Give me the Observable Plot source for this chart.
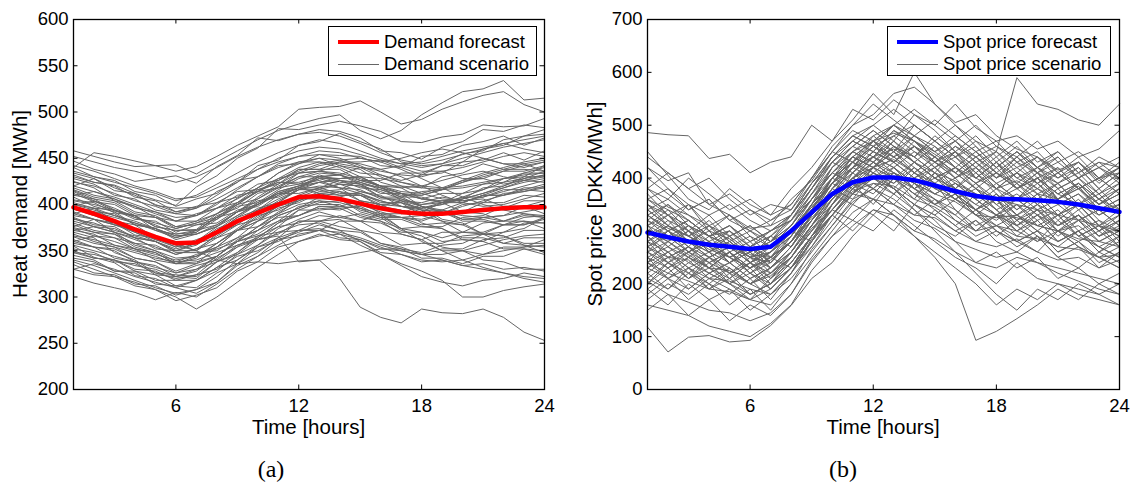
<!DOCTYPE html>
<html>
<head>
<meta charset="utf-8">
<script src="https://cdn.jsdelivr.net/npm/d3@7"></script>
<script src="https://cdn.jsdelivr.net/npm/@observablehq/plot@0.6"></script>
<style>
  html, body { margin: 0; padding: 0; background: #fff; }
  #wrap { position: relative; width: 1132px; height: 482px; overflow: hidden; background: #fff;
          font-family: "Liberation Sans", Arial, Helvetica, sans-serif; color: #000; }
  .panel { position: absolute; top: 0; }
  .lbl { position: absolute; white-space: nowrap; font-size: 20.5px; line-height: 1; }
  .cap { position: absolute; white-space: nowrap; font-family: "Liberation Serif", "DejaVu Serif", serif; font-size: 24px; line-height: 1; }
  .legend { position: absolute; box-sizing: border-box; border: 1.3px solid #000; background: #fff; }
  .legend .sw { position: absolute; }
  .legend .tx { position: absolute; font-size: 18.5px; line-height: 1; white-space: nowrap; transform: translateY(-50%); }
</style>
</head>
<body>
<div id="wrap"></div>
<script>
// ---------- data ----------
const hours = d3.range(1, 25);
const xTicks = [6, 12, 18, 24];
const demandTicks = [200, 250, 300, 350, 400, 450, 500, 550, 600];
const priceTicks = [0, 100, 200, 300, 400, 500, 600, 700];

const demandForecast = [397,390,382,373,365,358,359,370,382,391,400,408,409,406,401,396,392,390,390,392,394,396,397,397];
const priceForecast  = [297,288,280,274,270,266,270,300,335,370,392,401,401,396,386,375,366,361,360,358,355,350,343,336];

const demandScenarios = [
  [458,452,446,441,442,443,433,446,458,470,480,487,493,497,480,471,480,497,510,522,525,534,513,515],
  [440,456,452,447,442,436,441,452,464,474,484,503,505,506,512,500,487,492,503,511,518,522,508,500],
  [430,424,421,412,405,399,419,431,450,461,482,481,486,490,485,479,468,467,473,476,486,484,485,493],
  [447,438,433,425,428,431,423,441,453,472,469,476,481,479,472,458,456,449,462,468,481,479,486,483],
  [420,428,415,412,399,396,397,414,424,442,448,464,468,477,468,460,446,442,444,455,458,470,474,481],
  [412,403,400,388,386,376,382,390,407,418,434,444,454,453,452,442,440,432,442,446,460,464,474,476],
  [405,402,391,388,372,368,370,388,396,412,418,434,436,442,434,432,426,432,434,446,448,456,448,458],
  [398,404,393,388,376,372,373,390,400,416,422,438,438,446,446,448,440,452,454,464,468,474,464,472],
  [392,384,380,367,364,354,362,370,386,394,410,418,428,428,430,420,420,418,430,434,444,438,438,436],
  [388,384,370,364,352,350,350,368,378,394,402,418,418,426,418,416,408,414,416,426,428,436,436,442],
  [380,372,368,354,348,336,344,354,372,382,400,408,416,410,410,400,398,392,402,406,418,420,430,430],
  [372,368,356,352,340,336,336,354,364,382,390,406,408,414,404,400,390,390,390,400,402,412,414,420],
  [365,358,354,342,338,328,336,344,362,372,388,396,404,398,396,386,386,382,390,392,402,402,410,408],
  [358,354,342,338,324,322,320,338,348,366,376,394,394,396,386,382,374,376,376,386,388,398,398,404],
  [350,342,340,328,324,312,318,328,346,356,374,384,392,386,382,370,368,362,370,370,380,382,390,388],
  [342,338,328,326,314,312,310,326,336,354,364,382,382,384,372,368,356,358,358,366,368,378,378,384],
  [335,326,324,314,312,302,308,316,334,344,362,370,378,372,370,358,354,346,352,352,362,364,372,372],
  [322,315,310,305,297,305,300,314,330,344,356,368,372,370,364,356,350,346,346,350,356,362,366,368],
  [338,330,322,316,308,300,287,300,316,332,346,360,366,368,362,354,346,340,338,340,346,350,354,356],
  [355,343,337,323,320,310,304,316,336,348,364,372,382,376,372,358,352,342,342,336,344,344,352,350],
  [370,364,348,340,326,320,324,342,354,372,382,398,400,400,388,382,368,362,350,350,346,354,354,362],
  [385,376,370,356,350,338,346,354,372,382,396,402,412,410,410,398,394,380,374,362,360,352,352,346],
  [400,396,382,378,364,360,358,374,382,396,402,416,416,422,414,410,398,394,382,378,368,366,358,358],
  [415,406,402,390,386,374,380,386,400,406,418,422,432,426,422,408,402,388,382,370,368,358,356,348],
  [428,422,410,406,394,390,388,402,408,422,426,438,438,438,426,420,404,398,384,380,368,366,356,354],
  [368,360,354,348,342,338,340,348,356,362,366,338,340,320,289,278,272,287,283,282,287,278,262,253],
  [375,370,364,358,350,342,344,352,360,366,370,372,374,368,356,346,336,328,318,300,300,307,311,314],
  [390,384,378,372,364,356,350,340,336,338,336,339,340,344,348,352,350,346,340,334,330,326,322,320],
  [345,340,328,328,318,318,318,332,340,354,360,372,372,382,382,390,390,400,402,412,416,428,430,442],
  [410,406,394,388,376,372,372,386,392,404,408,418,412,406,392,386,372,366,354,350,340,338,330,330],
  [382,376,374,364,360,350,358,364,378,384,398,404,414,416,426,426,434,434,442,442,450,444,444,436],
  [395,390,378,374,362,358,350,364,372,388,394,406,406,406,394,388,374,370,360,362,360,370,374,386],
  [360,354,352,342,338,326,334,340,356,364,380,388,398,396,398,388,386,378,380,378,386,388,398,400],
  [425,418,404,398,386,382,382,396,402,414,418,430,430,432,422,418,408,408,402,408,408,416,416,422],
  [352,348,338,336,326,324,322,338,346,362,368,382,382,388,382,380,370,370,364,370,370,378,378,386],
  [440,430,426,414,410,398,406,412,426,430,442,444,450,442,438,424,418,406,402,392,390,382,382,374],
  [330,324,322,312,308,296,302,310,328,338,354,360,368,362,360,348,346,338,340,334,336,330,332,328],
  [402,396,394,384,382,370,378,384,398,402,412,412,418,412,412,402,402,396,402,402,410,410,418,418],
  [378,370,368,358,356,346,352,358,372,376,386,388,396,394,400,398,404,402,408,404,406,398,398,390],
  [418,410,406,396,392,382,390,396,410,414,424,424,430,424,422,412,412,406,412,412,422,424,434,434],
  [348,342,340,330,328,318,324,330,344,350,362,366,372,364,362,352,352,348,356,358,368,370,380,380],
  [432,424,420,408,404,392,398,402,414,416,424,422,426,418,416,406,406,400,404,402,410,410,416,414],
  [386,378,376,364,360,348,348,350,364,372,388,396,408,408,414,408,408,398,394,384,384,378,382,380],
  [408,398,392,378,374,364,372,378,392,398,412,418,430,432,440,438,442,436,436,428,428,422,426,424],
  [362,354,350,338,334,322,330,338,354,362,376,380,388,386,390,384,384,376,374,364,364,358,364,364],
  [398,392,390,378,374,362,368,376,392,400,414,420,430,428,430,418,412,398,392,382,382,378,386,388],
  [416,408,404,392,388,376,378,380,394,400,414,420,428,422,420,408,404,394,394,390,396,396,404,404],
  [374,366,364,352,348,336,338,344,360,368,382,388,398,398,404,400,402,394,392,384,386,382,388,386],
  [340,334,326,318,310,304,308,322,340,356,370,378,380,372,360,346,334,322,316,312,318,320,326,322],
  [395,388,380,370,360,350,356,370,386,400,412,420,424,418,404,390,374,360,350,340,332,326,320,316],
  [452,446,440,436,430,424,430,440,452,462,470,476,478,474,466,456,448,444,448,454,460,466,470,474],
  [436,430,424,418,412,404,410,422,434,446,456,464,470,466,458,450,444,440,444,450,456,462,466,470],
  [424,420,412,404,398,390,396,410,424,438,450,458,462,460,454,448,444,446,452,458,462,466,460,456],
  [410,414,406,398,390,382,388,400,416,430,444,452,458,456,450,446,450,456,460,456,450,444,440,446],
  [396,392,386,380,372,364,370,384,400,414,428,440,446,444,440,436,432,430,436,440,446,452,456,452],
  [384,380,372,366,360,352,358,372,388,402,416,428,434,432,426,420,418,420,426,432,436,430,426,430],
  [366,362,356,350,344,336,342,358,374,390,404,416,424,426,424,418,412,410,416,424,430,436,442,446],
  [348,346,340,334,330,322,328,344,360,376,392,404,412,414,410,404,398,396,400,406,412,418,424,428],
  [330,336,330,322,316,310,318,332,348,364,380,394,402,404,400,392,386,384,390,398,404,410,414,418],
  [442,436,428,420,414,406,408,418,428,438,446,452,454,450,442,432,424,418,416,418,422,428,434,440],
  [414,404,396,386,378,368,372,386,402,418,434,446,450,448,440,430,420,412,406,404,408,414,420,426],
  [376,384,378,370,362,354,360,376,392,408,422,434,442,446,444,438,430,420,410,402,398,400,406,412],
  [404,400,394,386,380,374,380,390,402,414,426,436,444,448,450,446,438,428,418,408,400,394,390,386],
  [356,350,344,338,332,326,330,344,360,376,390,400,404,402,396,390,386,388,394,402,410,418,426,432],
  [390,396,388,382,374,366,368,378,392,406,420,430,436,434,428,420,414,412,418,426,434,440,446,450],
  [420,414,408,400,392,386,388,396,406,418,428,434,436,432,424,416,410,410,416,424,432,438,444,448],
  [360,366,360,352,346,340,344,358,372,386,398,410,418,422,420,414,406,398,392,388,386,388,392,396],
  [434,428,418,410,400,392,396,406,418,430,440,446,446,440,430,420,412,406,404,406,412,420,428,436],
  [372,376,370,362,354,346,352,366,380,394,406,416,420,418,412,404,398,396,400,408,416,424,428,432],
  [400,394,388,380,374,366,368,376,388,400,410,418,424,428,430,428,424,420,418,420,424,428,432,434]
];

const priceScenarios = [
  [486,482,480,437,445,410,430,440,500,470,530,510,548,520,500,540,495,470,480,455,470,440,455,490],
  [118,71,99,102,90,93,121,159,210,240,290,330,300,350,320,280,240,260,230,250,210,230,200,220],
  [450,405,360,340,380,350,330,380,420,470,510,560,520,600,540,500,470,450,590,540,530,510,500,540],
  [420,395,410,350,330,305,310,360,395,450,500,520,560,572,540,505,520,480,455,440,415,430,395,420],
  [380,345,330,300,285,255,250,300,345,390,420,470,485,470,445,420,400,380,395,370,360,385,340,350],
  [330,305,290,265,250,230,245,280,325,365,400,420,435,410,380,375,350,330,325,310,300,285,280,270],
  [300,280,255,230,225,200,215,250,305,340,385,400,410,390,370,355,330,325,330,310,300,320,290,305],
  [270,250,245,210,205,190,180,220,285,330,375,390,385,360,345,320,300,310,290,285,270,265,250,255],
  [240,220,205,190,185,170,160,200,265,310,355,380,360,330,325,300,280,270,285,260,245,250,230,245],
  [205,180,165,150,145,130,145,180,245,290,335,360,350,320,305,280,265,250,260,240,230,220,210,200],
  [160,150,140,120,110,100,125,160,225,270,310,340,330,300,285,260,240,230,250,240,220,205,190,180],
  [350,330,310,290,275,250,260,300,345,390,420,440,455,430,410,395,370,360,350,340,330,320,310,300],
  [260,300,270,310,280,250,290,270,330,380,360,410,390,430,400,380,420,390,360,400,370,350,380,340],
  [310,270,300,260,290,240,260,300,280,350,410,380,420,390,350,380,340,370,330,360,320,350,310,290],
  [230,260,220,250,210,240,200,250,300,340,390,350,400,360,410,370,330,360,310,340,300,330,290,320],
  [280,240,270,230,260,220,250,230,290,330,370,420,380,350,390,340,300,330,290,320,280,300,260,290],
  [340,310,350,300,330,290,270,310,360,420,450,430,470,440,410,450,420,380,410,370,390,350,370,330],
  [200,240,210,250,230,200,220,260,310,370,400,380,350,390,360,330,370,340,300,280,320,290,270,250],
  [370,330,290,310,270,290,250,280,330,390,440,470,430,460,420,450,400,430,380,410,360,380,340,360],
  [250,210,230,190,220,180,200,240,290,340,320,360,330,300,340,310,280,300,270,290,250,270,230,260],
  [290,320,280,300,260,280,240,290,340,400,430,410,390,420,380,360,390,350,320,340,300,310,280,300],
  [220,190,230,200,180,210,170,220,280,330,380,400,370,410,390,360,340,370,330,300,330,290,310,270],
  [320,350,320,290,310,270,300,320,380,430,470,450,490,460,430,460,440,410,440,400,420,380,400,410],
  [180,210,170,200,160,190,150,200,250,300,350,330,370,340,310,290,320,280,260,290,250,230,260,240],
  [440,410,380,400,360,330,350,340,390,440,480,500,470,520,490,450,480,440,470,430,450,410,430,400],
  [260,230,250,220,240,210,230,260,320,360,400,440,410,380,350,370,330,300,280,260,300,270,250,230],
  [310,290,260,280,240,270,230,270,320,380,410,440,470,430,400,420,380,360,390,350,330,360,320,300],
  [240,280,250,230,260,220,200,230,270,320,370,400,420,380,360,340,310,330,300,320,280,300,270,290],
  [350,320,300,330,290,310,280,320,370,410,390,430,410,380,400,370,340,360,330,350,310,330,300,320],
  [280,260,230,250,220,200,230,270,330,370,350,390,370,400,430,410,380,350,370,340,360,320,340,310],
  [210,240,220,190,210,180,200,230,290,350,400,420,450,410,380,400,360,330,350,320,340,300,320,280],
  [300,280,310,270,300,260,280,310,360,410,440,420,460,430,400,380,410,370,340,370,330,350,310,330],
  [270,300,260,290,250,270,240,280,320,370,420,460,440,480,450,420,450,410,380,400,370,390,350,370],
  [190,160,200,170,190,150,180,210,260,310,360,380,350,330,360,320,290,310,280,300,260,280,240,260],
  [330,300,280,260,280,250,230,270,330,400,450,480,500,470,430,450,410,380,360,390,350,370,330,350],
  [250,270,240,260,220,250,210,260,310,350,400,380,410,380,350,370,340,320,350,310,330,290,310,290],
  [300,330,290,320,280,300,270,300,350,390,430,410,380,420,390,360,380,340,310,330,300,280,300,270],
  [360,380,340,360,320,340,310,330,380,430,460,490,460,430,460,420,390,420,380,400,360,380,350,370],
  [230,210,240,220,200,230,190,230,280,330,380,360,400,370,340,310,340,300,280,300,260,280,250,270],
  [290,250,270,240,260,230,250,280,330,380,420,440,420,390,420,380,350,380,340,370,330,350,310,340],
  [220,250,210,240,200,170,210,240,290,340,380,410,380,350,330,300,320,290,320,290,270,300,260,280],
  [320,290,310,280,250,270,240,280,330,380,430,470,450,480,460,430,400,430,400,420,380,400,370,390],
  [260,280,300,260,240,260,220,250,300,360,400,430,460,440,410,380,360,330,310,340,310,330,290,310],
  [340,310,280,250,270,240,260,290,350,400,440,420,400,380,410,370,340,310,300,330,290,320,280,300],
  [200,230,190,220,240,210,230,270,320,370,410,450,430,400,370,390,360,330,360,330,310,340,300,330],
  [280,310,280,260,280,250,240,280,340,390,430,460,440,460,430,400,430,390,410,380,360,390,350,380],
  [150,180,140,170,130,160,140,180,240,290,320,300,340,310,280,250,230,200,240,210,200,190,180,160],
  [310,330,300,270,290,260,280,310,370,430,470,500,530,500,470,500,460,420,450,410,430,400,420,390],
  [240,210,190,220,200,180,200,240,290,330,300,340,320,290,260,230,200,160,190,170,200,180,170,160],
  [360,340,320,290,310,280,300,330,390,440,480,460,500,530,500,470,500,460,440,470,430,450,420,440],
  [270,240,260,230,210,240,220,250,300,350,390,420,400,370,350,330,300,330,310,280,300,270,250,230],
  [380,360,400,370,340,360,330,350,400,460,500,540,510,480,510,480,450,470,430,410,440,400,420,400],
  [290,260,280,250,270,240,260,290,340,390,370,360,330,290,250,200,93,110,134,160,190,170,200,180],
  [330,300,320,290,300,270,290,320,360,400,430,400,380,340,300,260,220,180,150,190,170,200,180,200],
  [360,330,350,310,290,310,280,330,380,440,470,450,490,470,440,470,430,450,410,440,400,420,380,410],
  [310,340,300,280,300,270,290,330,390,430,410,450,430,460,440,410,440,400,430,390,410,380,400,370],
  [400,370,340,360,320,300,320,340,400,450,430,480,450,500,470,440,460,420,450,420,440,400,430,420],
  [280,300,320,290,270,250,270,310,360,410,450,430,400,430,400,420,390,410,380,400,370,390,360,380],
  [250,230,260,280,250,230,250,290,350,400,440,470,440,410,440,400,420,380,410,390,420,380,400,370],
  [340,360,330,310,330,300,280,300,350,400,380,420,450,420,390,420,390,360,380,350,380,340,360,340],
  [230,250,270,240,220,240,210,250,310,370,420,400,430,460,430,400,430,400,440,410,390,420,380,410],
  [420,380,350,330,350,320,300,320,370,420,460,440,480,450,420,440,400,430,390,420,390,410,370,400],
  [190,220,250,230,260,230,250,280,330,380,420,450,430,400,420,390,360,390,360,380,350,370,340,360],
  [300,270,250,280,250,220,240,280,330,390,440,420,460,440,480,450,420,450,420,440,410,430,400,420],
  [270,290,260,240,260,230,260,300,350,420,460,490,460,440,470,440,410,440,400,380,410,380,350,380],
  [350,310,290,270,240,260,230,260,310,360,400,440,420,450,430,460,430,400,420,390,360,390,360,330],
  [210,190,220,200,230,200,180,220,270,330,370,410,440,410,440,410,380,410,390,360,390,350,330,350],
  [320,300,270,250,270,240,270,300,360,410,450,470,500,470,450,480,450,420,450,420,450,410,440,420],
  [260,240,210,230,200,220,190,230,290,350,390,370,410,390,370,390,370,340,360,330,350,320,340,310],
  [380,410,380,350,370,340,320,350,400,450,490,470,500,480,450,470,440,460,430,450,410,440,400,430],
  [240,260,230,210,230,200,220,260,310,360,400,430,400,370,390,360,340,360,320,350,310,330,300,320],
  [330,350,310,290,310,280,300,330,380,440,480,460,430,470,440,410,440,410,380,410,380,400,360,390],
  [170,200,180,210,190,170,190,230,280,330,370,400,380,350,330,360,330,310,330,300,280,300,270,250],
  [290,310,290,270,250,270,250,280,340,400,430,460,480,500,470,440,470,430,460,420,400,430,390,420]
];

const demandLegend = ["Demand forecast", "Demand scenario"];
const priceLegend = ["Spot price forecast", "Spot price scenario"];

// ---------- drawing ----------
const FONT = "'Liberation Sans', Arial, Helvetica, sans-serif";
const GRAY = "#666666";

function toRows(scen) {
  return scen.flatMap((s, i) => s.map((v, h) => ({hour: hours[h], value: v, id: i})));
}

function panel({left, width, mL, mR, yDomain, yTicks, scen, forecast, color}) {
  const H = 440, mT = 19, mB = 51;
  const frameW = width - mL - mR, frameH = H - mT - mB;
  const tl = 4.5;
  const fc = forecast.map((v, i) => ({hour: hours[i], value: v}));
  const chart = Plot.plot({
    width, height: H,
    marginLeft: mL, marginRight: mR, marginTop: mT, marginBottom: mB,
    x: {domain: [1, 24]},
    y: {domain: yDomain},
    style: {fontFamily: FONT, fontSize: "18.5px", color: "#000", background: "transparent", overflow: "visible"},
    marks: [
      Plot.line(toRows(scen), {x: "hour", y: "value", z: "id", stroke: GRAY, strokeWidth: 1}),
      Plot.line(fc, {x: "hour", y: "value", stroke: color, strokeWidth: 4.5, strokeLinejoin: "round"}),
      Plot.tickX(xTicks, {x: d => d, insetTop: frameH - tl, stroke: "#000", strokeWidth: 1}),
      Plot.tickX(xTicks, {x: d => d, insetBottom: frameH - tl, stroke: "#000", strokeWidth: 1}),
      Plot.tickY(yTicks, {y: d => d, insetRight: frameW - tl, stroke: "#000", strokeWidth: 1}),
      Plot.tickY(yTicks, {y: d => d, insetLeft: frameW - tl, stroke: "#000", strokeWidth: 1}),
      Plot.axisX(xTicks, {tickSize: 0, tickPadding: 9, label: null, fontSize: 18.5}),
      Plot.axisY(yTicks, {tickSize: 0, tickPadding: 5, label: null, fontSize: 18.5}),
      Plot.frame({stroke: "#000", strokeWidth: 1.3})
    ]
  });
  chart.classList.add("panel");
  chart.style.left = left + "px";
  return chart;
}

const wrap = document.getElementById("wrap");
wrap.appendChild(panel({left: 0, width: 566, mL: 73, mR: 22, yDomain: [200, 600], yTicks: demandTicks,
  scen: demandScenarios, forecast: demandForecast, color: "#ff0000"}));
wrap.appendChild(panel({left: 566, width: 566, mL: 81, mR: 13, yDomain: [0, 700], yTicks: priceTicks,
  scen: priceScenarios, forecast: priceForecast, color: "#0000ff"}));

function label(text, x, y, rot, cls) {
  const d = document.createElement("div");
  d.className = cls || "lbl";
  d.textContent = text;
  d.style.left = x + "px";
  d.style.top = y + "px";
  d.style.transform = "translate(-50%,-50%)" + (rot ? " rotate(" + rot + "deg)" : "");
  wrap.appendChild(d);
}
label("Heat demand [MWh]", 20, 204, -90);
label("Spot price [DKK/MWh]", 595, 204, -90);
label("Time [hours]", 308.5, 427);
label("Time [hours]", 883, 427);
label("(a)", 271, 469, 0, "cap");
label("(b)", 843, 469, 0, "cap");

function legend(x0, x1, names, color) {
  const box = document.createElement("div");
  box.className = "legend";
  box.style.left = x0 + "px";
  box.style.top = "26px";
  box.style.width = (x1 - x0) + "px";
  box.style.height = "50px";
  const rows = [{y: 15, w: 4.5, c: color}, {y: 37, w: 1, c: GRAY}];
  rows.forEach((r, i) => {
    const s = document.createElement("div");
    s.className = "sw";
    s.style.left = "9px"; s.style.width = "41px";
    s.style.top = (r.y - r.w / 2) + "px"; s.style.height = r.w + "px";
    s.style.background = r.c;
    box.appendChild(s);
    const t = document.createElement("div");
    t.className = "tx";
    t.style.left = "55px"; t.style.top = r.y + "px";
    t.textContent = names[i];
    box.appendChild(t);
  });
  wrap.appendChild(box);
}
legend(328, 537, demandLegend, "#ff0000");
legend(887, 1111, priceLegend, "#0000ff");
</script>
</body>
</html>
